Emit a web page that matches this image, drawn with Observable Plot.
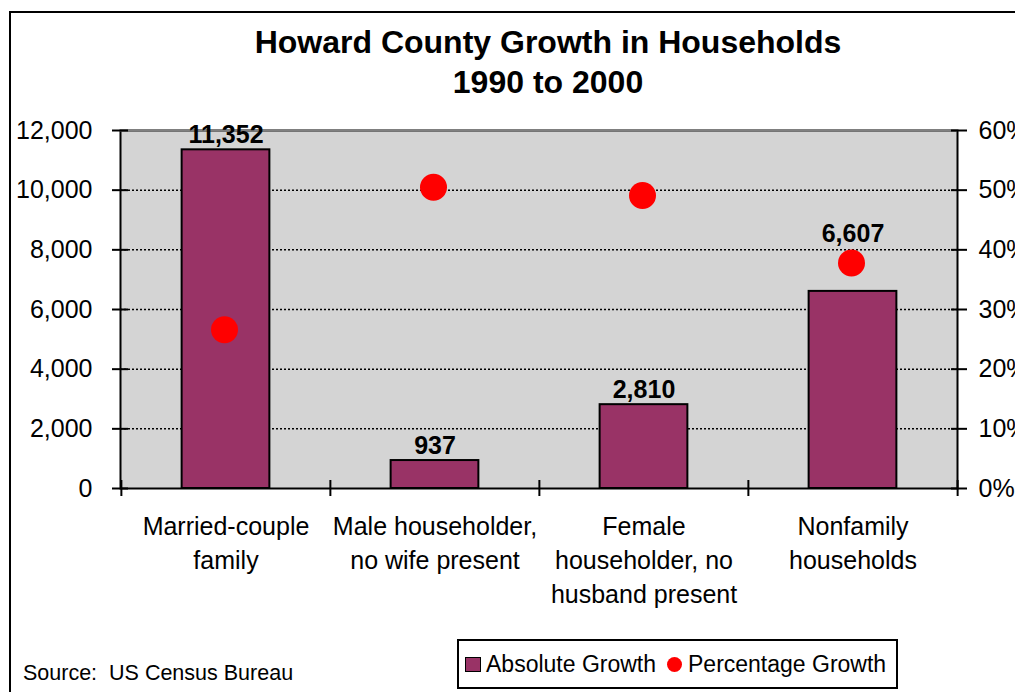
<!DOCTYPE html>
<html><head><meta charset="utf-8">
<script src="https://cdn.jsdelivr.net/npm/d3@7"></script>
<script src="https://cdn.jsdelivr.net/npm/@observablehq/plot@0.6"></script>
<style>
body{margin:0;background:#fff;}
#wrap{position:relative;width:1015px;height:692px;overflow:hidden;font-family:"Liberation Sans",Arial,sans-serif;color:#000;}
#border{position:absolute;left:9px;top:11px;width:1100px;height:800px;border:2px solid #000;box-sizing:border-box;}
#chart{position:absolute;left:0;top:0;}
#title{position:absolute;left:248px;top:22px;width:600px;text-align:center;font-weight:bold;font-size:32px;line-height:40px;}
#source{position:absolute;left:23px;top:661px;font-size:21.5px;line-height:24px;white-space:pre;}
#legend{position:absolute;left:457px;top:639px;width:441px;height:50px;border:2px solid #000;box-sizing:border-box;background:#fff;font-size:23px;line-height:26px;}
#legend .sw{position:absolute;left:6px;top:16px;width:16px;height:15px;border:1.5px solid #000;box-sizing:border-box;background:#993366;}
#legend .dot{position:absolute;left:207.5px;top:15.5px;width:15px;height:15px;border-radius:50%;background:#ff0000;}
#legend .t1{position:absolute;left:27px;top:10px;white-space:nowrap;}
#legend .t2{position:absolute;left:229px;top:10px;white-space:nowrap;}
</style>
</head><body>
<div id="wrap">
  <div id="border"></div>
  <div id="chart"></div>
  <div id="title"></div>
  <div id="legend"><div class="sw"></div><div class="t1"></div><div class="dot"></div><div class="t2"></div></div>
  <div id="source"></div>
</div>
<script>
const titleLines = ["Howard County Growth in Households", "1990 to 2000"];
const sourceText = "Source:  US Census Bureau";
const seriesNames = ["Absolute Growth", "Percentage Growth"];
const categories = ["Married-couple family", "Male householder, no wife present", "Female householder, no husband present", "Nonfamily households"];
const tickLabels = ["Married-couple\nfamily", "Male householder,\nno wife present", "Female\nhouseholder, no\nhusband present", "Nonfamily\nhouseholds"];
const absoluteGrowth = [11352, 937, 2810, 6607];
const percentGrowth = [26.6, 50.5, 49.1, 37.8];
const yTicks = [0, 2000, 4000, 6000, 8000, 10000, 12000];
const pctTicks = [0, 10, 20, 30, 40, 50, 60];

document.getElementById("title").innerHTML = titleLines.join("<br>");
document.getElementById("source").textContent = sourceText;
document.querySelector("#legend .t1").textContent = seriesNames[0];
document.querySelector("#legend .t2").textContent = seriesNames[1];

const W = 1015, H = 692, mL = 120, mR = 58, mT = 130, mB = 204;
const bw = (W - mL - mR) / categories.length;
const barInset = (bw - 88) / 2;
const dotR = 13.5;
const yMax = yTicks[yTicks.length - 1], pctMax = pctTicks[pctTicks.length - 1];
const pctToY = p => p * yMax / pctMax;
const fmt = d3.format(",");
const data = categories.map((c, i) => ({cat: c, abs: absoluteGrowth[i], pct: percentGrowth[i]}));
// a bar label that would collide with the dot just above its bar is lifted above the dot
const collides = d => pctToY(d.pct) > d.abs && pctToY(d.pct) - d.abs < yMax / 8;
const font = '"Liberation Sans", Arial, sans-serif';

const chart = Plot.plot({
  width: W, height: H, marginLeft: mL, marginRight: mR, marginTop: mT, marginBottom: mB,
  style: {background: "transparent", fontFamily: font, fontSize: "25px", color: "#000", overflow: "visible"},
  x: {type: "band", domain: categories, padding: 0, axis: null, label: null},
  y: {domain: [0, yMax], axis: null, label: null},
  marks: [
    Plot.frame({fill: "#d4d4d4", stroke: "none"}),
    Plot.ruleY(yTicks.slice(1, -1), {stroke: "#000", strokeWidth: 1.5, strokeDasharray: "2,2"}),
    Plot.barY(data, {x: "cat", y: "abs", fill: "#993366", stroke: "#000", strokeWidth: 2, insetLeft: barInset, insetRight: barInset}),
    Plot.frame({stroke: "#000", strokeWidth: 2, fill: "none"}),
    Plot.ruleY([yMax], {stroke: "#808080", strokeWidth: 2}),
    // left axis: crossing ticks, then labels
    Plot.axisY(yTicks, {anchor: "left", tickSize: 16, dx: 8, strokeWidth: 2, fill: "none", label: null}),
    Plot.axisY(yTicks, {anchor: "left", tickSize: 0, tickPadding: 28, tickFormat: fmt, fontSize: 25, label: null}),
    // right axis (percent)
    Plot.axisY(pctTicks.map(pctToY), {anchor: "right", tickSize: 16, dx: -7, strokeWidth: 2, fill: "none", label: null}),
    Plot.axisY(pctTicks.map(pctToY), {anchor: "right", tickSize: 0, tickPadding: 21, tickFormat: d => `${Math.round(d * pctMax / yMax)}%`, fontSize: 25, label: null}),
    // category boundary ticks
    Plot.axisX(categories, {anchor: "bottom", tickSize: 16, dy: -8, dx: -bw / 2, strokeWidth: 2, fill: "none", label: null}),
    Plot.axisX(categories.slice(-1), {anchor: "bottom", tickSize: 16, dy: -8, dx: bw / 2, strokeWidth: 2, fill: "none", label: null}),
    Plot.axisX(categories, {anchor: "bottom", tickSize: 0, tickPadding: 22, tickFormat: d => tickLabels[categories.indexOf(d)], fontSize: 25, lineHeight: 1.36, lineAnchor: "top", label: null}),
    Plot.text(data.filter(d => !collides(d)), {x: "cat", y: "abs", text: d => fmt(d.abs), lineAnchor: "bottom", dy: -7, fontWeight: "bold", fontSize: 25}),
    Plot.text(data.filter(collides), {x: "cat", y: d => pctToY(d.pct), text: d => fmt(d.abs), lineAnchor: "bottom", dy: -7 - dotR, fontWeight: "bold", fontSize: 25}),
    Plot.dot(data, {x: "cat", y: d => pctToY(d.pct), r: dotR, dx: -1.5, fill: "#ff0000", stroke: "none"})
  ]
});
document.getElementById("chart").appendChild(chart);
</script>
</body></html>
